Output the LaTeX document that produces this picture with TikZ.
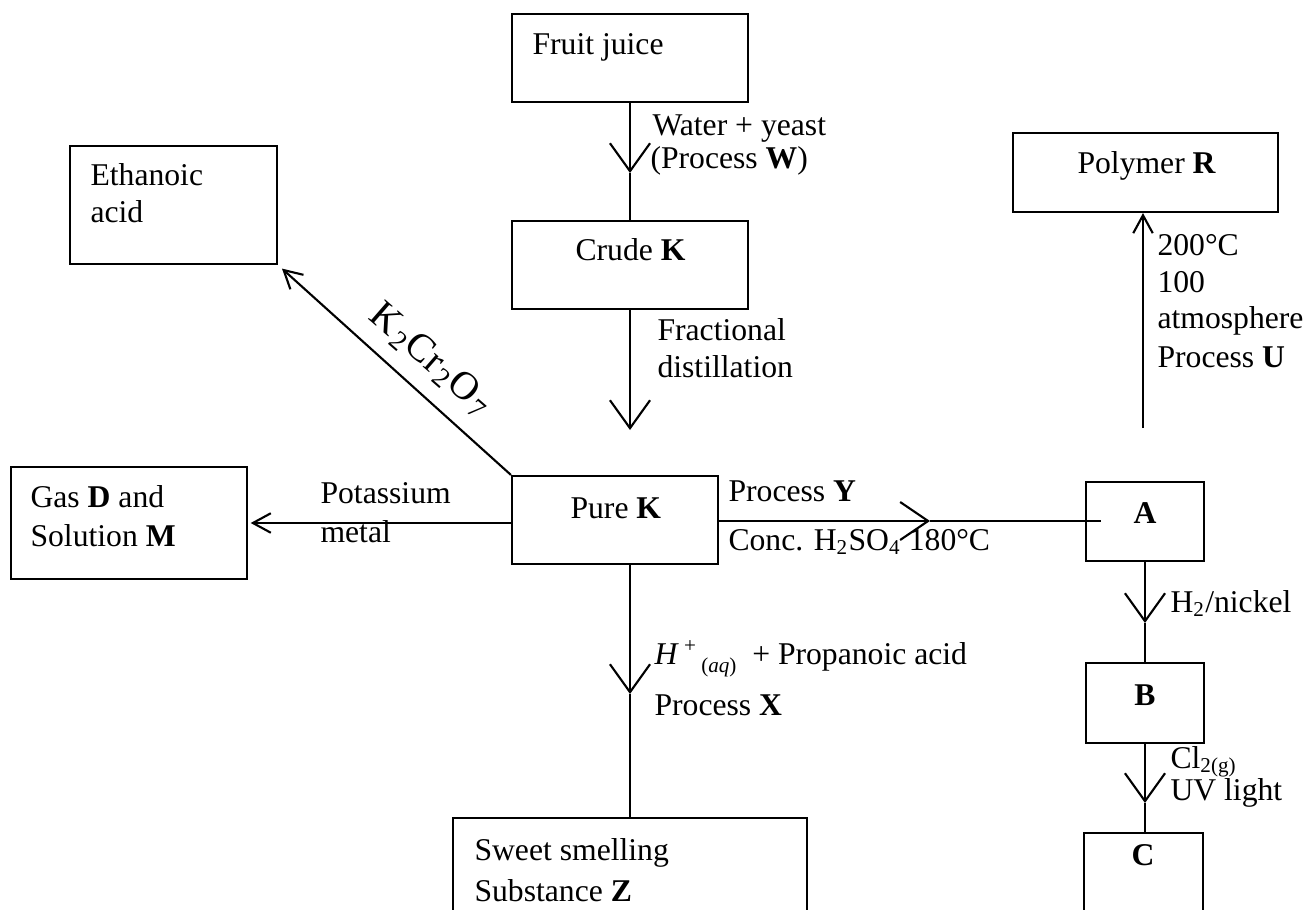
\documentclass[tikz,border=0pt]{standalone}
\usepackage{fontspec}
\setmainfont{Liberation Serif}
\usetikzlibrary{arrows.meta,fit,calc}
\begin{document}
\begin{tikzpicture}[x=0.379pt,y=-0.379pt,
  box/.style={draw,line width=0.8pt,inner sep=0pt,rectangle},
  lbl/.style={anchor=base west,inner sep=0pt,font=\fontsize{12pt}{14pt}\selectfont},
  ctr/.style={anchor=base,inner sep=0pt,font=\fontsize{12pt}{14pt}\selectfont\bfseries},
  conn/.style={line width=0.8pt},
  vbarb/.tip={Straight Barb[length=10.6pt,width=15.2pt]},
  ybarb/.tip={Straight Barb[length=10.6pt,width=14.4pt]},
  sbarb/.tip={Straight Barb[length=6.8pt,width=7.4pt]}]
\useasboundingbox (0,0) rectangle (1304,910);
\clip (0,0) rectangle (1304,910);
% boxes
\node[box,fit={(512,14)(748,102)}] (fj) {};
\node[box,fit={(512,221)(748,309)}] (crude) {};
\node[box,fit={(512,476)(718,564)}] (pure) {};
\node[box,fit={(70,146)(277,264)}] (eth) {};
\node[box,fit={(11,467)(247,579)}] (gas) {};
\node[box,fit={(1013,133)(1278,212)}] (poly) {};
\node[box,fit={(1086,482)(1204,561)}] (A) {};
\node[box,fit={(1086,663)(1204,743)}] (B) {};
\node[box,fit={(1084,833)(1203,950)}] (C) {};
\node[box,fit={(453,818)(807,950)}] (Z) {};
% texts
\node[lbl] (tfj) at (532,55) {Fruit juice};
\node[lbl] (tw1) at (652,135) {Water + yeast};
\node[lbl] (tw2) at (650,168) {(Process \textbf{W})};
\node[lbl] (tcr) at (575,260) {Crude \textbf{K}};
\node[lbl] (tfd1) at (657,340) {Fractional};
\node[lbl] (tfd2) at (657,377) {distillation};
\node[lbl] (tpu) at (570,518) {Pure \textbf{K}};
\node[lbl] (tet1) at (90,185) {Ethanoic};
\node[lbl] (tet2) at (90,222) {acid};
\node[lbl] (tg1) at (30,507) {Gas \textbf{D} and};
\node[lbl] (tg2) at (30,546) {Solution \textbf{M}};
\node[lbl] (tk1) at (320,503) {Potassium};
\node[lbl] (tk2) at (320,542) {metal};
\node[lbl] (ty1) at (728,501) {Process \textbf{Y}};
\node[lbl] (ty2) at (728,550) {Conc. H\textsubscript{2}SO\textsubscript{4} 180°C};
\node[ctr] (ta) at (1145,523) {A};
\node[ctr] (tb) at (1145,705) {B};
\node[ctr] (tc) at (1143,865) {C};
\node[lbl] (tpo) at (1077,173) {Polymer \textbf{R}};
\node[lbl] (tu1) at (1157,255) {200°C};
\node[lbl] (tu2) at (1157,292) {100};
\node[lbl] (tu3) at (1157,328) {atmosphere};
\node[lbl] (tu4) at (1157,367) {Process \textbf{U}};
\node[lbl] (tn) at (1170,612) {H\textsubscript{2}/nickel};
\node[lbl] (tcl1) at (1170,768) {Cl\textsubscript{2(g)}};
\node[lbl] (tcl2) at (1170,800) {UV light};
\node[lbl] (th) at (654,664) {\textit{H}\,\raisebox{0.8ex}{\footnotesize +}\,\raisebox{-0.6ex}{\footnotesize(\textit{aq})}\ \ + Propanoic acid};
\node[lbl] (tx) at (654,715) {Process \textbf{X}};
\node[lbl] (tz1) at (474,860) {Sweet smelling};
\node[lbl] (tz2) at (474,901) {Substance \textbf{Z}};
\node[inner sep=0pt,rotate=-41,font=\fontsize{15pt}{17pt}\selectfont] (tkc) at (431,360) {K\kern1pt\textsubscript{2}Cr\kern1pt\textsubscript{2}O\kern1pt\textsubscript{7}};
% connectors
\coordinate (t1) at (630,173);
\draw[conn,-{vbarb}] (fj.south) -- (t1);
\draw[conn] (t1) -- (crude.north);
\coordinate (t2) at (630,430);
\draw[conn,-{vbarb}] (crude.south) -- (t2);
\coordinate (t3) at (930,521);
\coordinate (yend) at (1101,521);
\draw[conn,-{ybarb}] (pure.east |- t3) -- (t3);
\draw[conn] (t3) -- (yend);
\draw[conn,-{sbarb},shorten >=1pt] (pure.west |- gas.east) -- (gas.east);
\draw[conn,-{sbarb},shorten >=2pt] (pure.north west) -- (eth.south east);
\coordinate (t4) at (630,694);
\draw[conn,-{vbarb}] (pure.south -| Z.north) -- (t4);
\draw[conn] (t4) -- (Z.north);
\coordinate (t5) at (1145,623);
\draw[conn,-{vbarb}] (A.south) -- (t5);
\draw[conn] (t5) -- (B.north);
\coordinate (t6) at (1145,803);
\draw[conn,-{vbarb}] (B.south) -- (t6);
\draw[conn] (t6) -- (C.north -| t6);
\coordinate (u) at (1143,428);
\draw[conn,-{sbarb}] (u) -- (poly.south -| u);
\end{tikzpicture}
\end{document}
